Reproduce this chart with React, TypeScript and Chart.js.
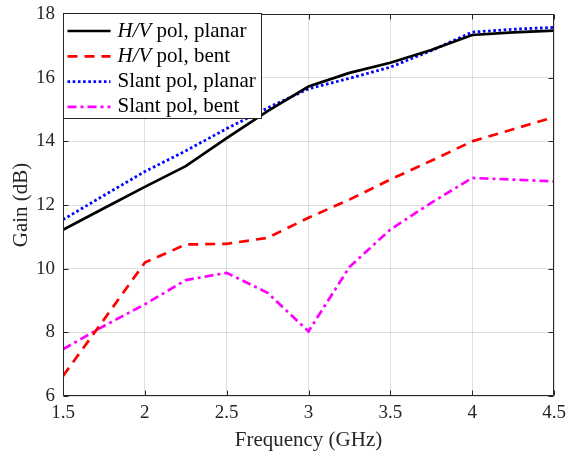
import { useEffect, useRef } from 'react';
import { Chart, registerables } from 'chart.js';

Chart.register(...registerables);

const frequencies = [1.5, 1.75, 2, 2.25, 2.5, 2.75, 3, 3.25, 3.5, 3.75, 4, 4.25, 4.5];
const hvPlanar = [11.22, 11.9, 12.57, 13.22, 14.1, 14.95, 15.72, 16.15, 16.47, 16.87, 17.34, 17.42, 17.48];
const hvBent = [6.63, 8.4, 10.19, 10.76, 10.78, 10.97, 11.6, 12.17, 12.8, 13.39, 14.0, 14.38, 14.76];
const slantPlanar = [11.54, 12.3, 13.05, 13.7, 14.4, 15.05, 15.65, 15.98, 16.33, 16.85, 17.43, 17.52, 17.58];
const slantBent = [7.47, 8.2, 8.88, 9.64, 9.87, 9.24, 8.03, 10.05, 11.23, 12.07, 12.85, 12.8, 12.74];

const seriesLabels = ['H/V pol, planar', 'H/V pol, bent', 'Slant pol, planar', 'Slant pol, bent'];
const xTicks = [1.5, 2, 2.5, 3, 3.5, 4, 4.5];
const yTicks = [6, 8, 10, 12, 14, 16, 18];
const xTitle = 'Frequency (GHz)';
const yTitle = 'Gain (dB)';

const FONT = "'Liberation Serif', 'Times New Roman', serif";
const AXIS_COLOR = '#262626';

const framePlugin = {
  id: 'matlabFrame',
  afterDatasetsDraw(chart: any) {
    const { ctx, chartArea } = chart;
    const { left, right, top, bottom } = chartArea;
    const xs = chart.scales.x;
    const ys = chart.scales.y;
    ctx.save();
    ctx.strokeStyle = AXIS_COLOR;
    ctx.lineWidth = 1;
    ctx.setLineDash([]);
    const L = Math.round(left) + 0.5;
    const R = Math.round(right) - 0.5;
    const T = Math.round(top) + 0.5;
    const B = Math.round(bottom) - 0.5;
    ctx.beginPath();
    ctx.rect(L, T, R - L, B - T);
    const tl = 5;
    xTicks.forEach((v) => {
      const px = Math.round(xs.getPixelForValue(v)) + 0.5;
      ctx.moveTo(px, B);
      ctx.lineTo(px, B - tl);
      ctx.moveTo(px, T);
      ctx.lineTo(px, T + tl);
    });
    yTicks.forEach((v) => {
      const py = Math.round(ys.getPixelForValue(v)) + 0.5;
      ctx.moveTo(L, py);
      ctx.lineTo(L + tl, py);
      ctx.moveTo(R, py);
      ctx.lineTo(R - tl, py);
    });
    ctx.stroke();
    ctx.restore();
  },
};

const legendPlugin = {
  id: 'matlabLegend',
  afterDraw(chart: any) {
    const { ctx, chartArea } = chart;
    const bx = Math.round(chartArea.left) + 0.5;
    const by = Math.round(chartArea.top) - 0.5;
    const bw = 198;
    const bh = 105;
    ctx.save();
    ctx.fillStyle = '#ffffff';
    ctx.fillRect(bx, by, bw, bh);
    ctx.strokeStyle = AXIS_COLOR;
    ctx.lineWidth = 1;
    ctx.setLineDash([]);
    ctx.strokeRect(bx, by, bw, bh);
    chart.data.datasets.forEach((ds: any, i: number) => {
      const y = by + 17.5 + i * 25.3;
      ctx.save();
      ctx.strokeStyle = ds.borderColor;
      ctx.lineWidth = ds.borderWidth;
      ctx.setLineDash(ds.borderDash || []);
      ctx.lineCap = 'butt';
      ctx.beginPath();
      ctx.moveTo(bx + 4, y);
      ctx.lineTo(bx + 47, y);
      ctx.stroke();
      ctx.restore();
      ctx.fillStyle = '#000000';
      ctx.textBaseline = 'middle';
      ctx.textAlign = 'left';
      let x = bx + 54;
      const label: string = ds.label;
      const m = label.match(/^(H\/V)(.*)$/);
      if (m) {
        ctx.font = `italic 21px ${FONT}`;
        ctx.fillText(m[1], x, y);
        x += ctx.measureText(m[1]).width;
        ctx.font = `21px ${FONT}`;
        ctx.fillText(m[2], x, y);
      } else {
        ctx.font = `21px ${FONT}`;
        ctx.fillText(label, x, y);
      }
    });
    ctx.restore();
  },
};

export default function App() {
  const ref = useRef<HTMLCanvasElement | null>(null);

  useEffect(() => {
    if (!ref.current) return;
    const mk = (vals: number[]) => frequencies.map((f, i) => ({ x: f, y: vals[i] }));
    const chart = new Chart(ref.current, {
      type: 'line',
      data: {
        datasets: [
          { label: seriesLabels[0], data: mk(hvPlanar), borderColor: '#000000', borderWidth: 2.7, borderDash: [] },
          { label: seriesLabels[1], data: mk(hvBent), borderColor: '#ff0000', borderWidth: 2.7, borderDash: [10, 7] },
          { label: seriesLabels[2], data: mk(slantPlanar), borderColor: '#0000ff', borderWidth: 2.8, borderDash: [2.6, 2.6] },
          { label: seriesLabels[3], data: mk(slantBent), borderColor: '#ff00ff', borderWidth: 2.7, borderDash: [9, 4, 3, 4] },
        ].map((d) => ({ ...d, pointRadius: 0, tension: 0, fill: false })),
      },
      options: {
        animation: false,
        responsive: false,
        devicePixelRatio: 1,
        layout: { padding: { left: 0, right: 15, top: 14, bottom: 0 } },
        plugins: { legend: { display: false }, tooltip: { enabled: false } },
        scales: {
          x: {
            type: 'linear',
            min: 1.5,
            max: 4.5,
            afterBuildTicks: (s: any) => {
              s.ticks = xTicks.map((v) => ({ value: v }));
            },
            afterFit: (s: any) => {
              s.height = 59;
              s.paddingLeft = 0;
              s.paddingRight = 0;
            },
            grid: { color: 'rgba(38,38,38,0.15)', drawTicks: false },
            border: { display: false },
            ticks: {
              color: AXIS_COLOR,
              font: { family: FONT, size: 19 },
              padding: 6,
              maxRotation: 0,
              callback: (v: any) => String(v),
            },
            title: { display: true, text: xTitle, color: AXIS_COLOR, font: { family: FONT, size: 21 }, padding: { top: 0, bottom: 2 } },
          },
          y: {
            type: 'linear',
            min: 6,
            max: 18,
            afterBuildTicks: (s: any) => {
              s.ticks = yTicks.map((v) => ({ value: v }));
            },
            afterFit: (s: any) => {
              s.width = 63;
              s.paddingTop = 0;
              s.paddingBottom = 0;
            },
            grid: { color: 'rgba(38,38,38,0.15)', drawTicks: false },
            border: { display: false },
            ticks: { color: AXIS_COLOR, font: { family: FONT, size: 19 }, padding: 8, callback: (v: any) => String(v) },
            title: { display: true, text: yTitle, color: AXIS_COLOR, font: { family: FONT, size: 21 }, padding: { top: 9, bottom: 0 } },
          },
        },
      },
      plugins: [framePlugin, legendPlugin],
    } as any);
    return () => chart.destroy();
  }, []);

  return (
    <div style={{ position: 'fixed', left: 0, top: 0, width: 569, height: 455, background: '#fff' }}>
      <canvas ref={ref} width={569} height={455} style={{ display: 'block', width: 569, height: 455 }} />
    </div>
  );
}
